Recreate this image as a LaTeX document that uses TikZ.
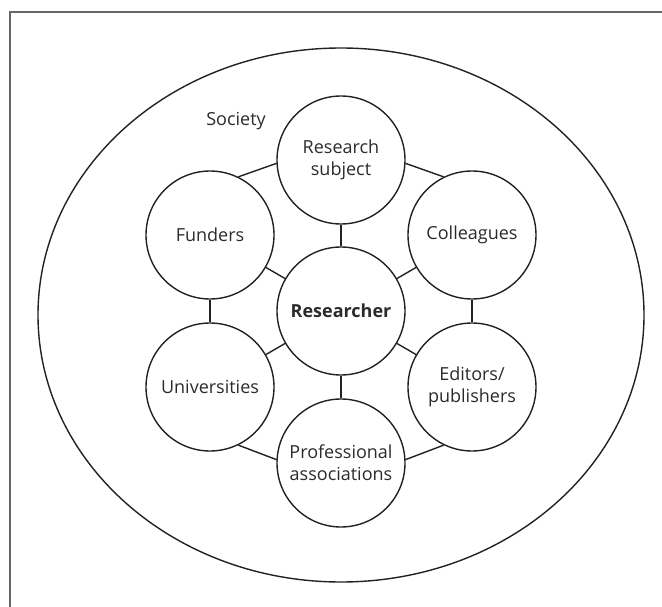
\documentclass[tikz,border=0pt]{standalone}
\usepackage{fontspec}
\setmainfont{Open Sans}
\definecolor{ink}{HTML}{222222}
\definecolor{txt}{HTML}{2B2B2B}
\definecolor{framegray}{HTML}{666666}
\begin{document}
\begin{tikzpicture}[x=1pt,y=-1pt,
  actor/.style={circle,draw=ink,line width=1.4pt,minimum size=128pt,inner sep=0pt,
    align=center,text=txt,font=\fontsize{18}{22}\selectfont},
  link/.style={draw=ink,line width=1.4pt},
  framel/.style={draw=framegray,line width=2pt}]
\useasboundingbox (0,0) rectangle (662,607);
\draw[framel] (10,607) -- (10,12) -- (662,12);
\draw[ink,line width=1.4pt] (341,315) ellipse [x radius=303pt, y radius=267pt];
\node[text=txt,font=\fontsize{18}{22}\selectfont] (soc) at (236,121) {Society};
\node[actor] (R) at (341,311) {\bfseries Researcher};
\node[actor] (S) at (341,160) {Research\\subject};
\node[actor] (F) at (210,235) {Funders};
\node[actor] (C) at (472,235) {Colleagues};
\node[actor] (U) at (210,387) {Universities};
\node[actor] (E) at (472,387) {Editors/\\publishers};
\node[actor] (P) at (341,463) {Professional\\associations};
\foreach \n in {S,F,C,U,E,P} \draw[link] (R) -- (\n);
\draw[link] (S.183) -- (F.64);
\draw[link] (S.-3) -- (C.116);
\draw[link] (F.270) -- (U.90);
\draw[link] (C.270) -- (E.90);
\draw[link] (U.-64) -- (P.177);
\draw[link] (E.244) -- (P.3);
\end{tikzpicture}
\end{document}
